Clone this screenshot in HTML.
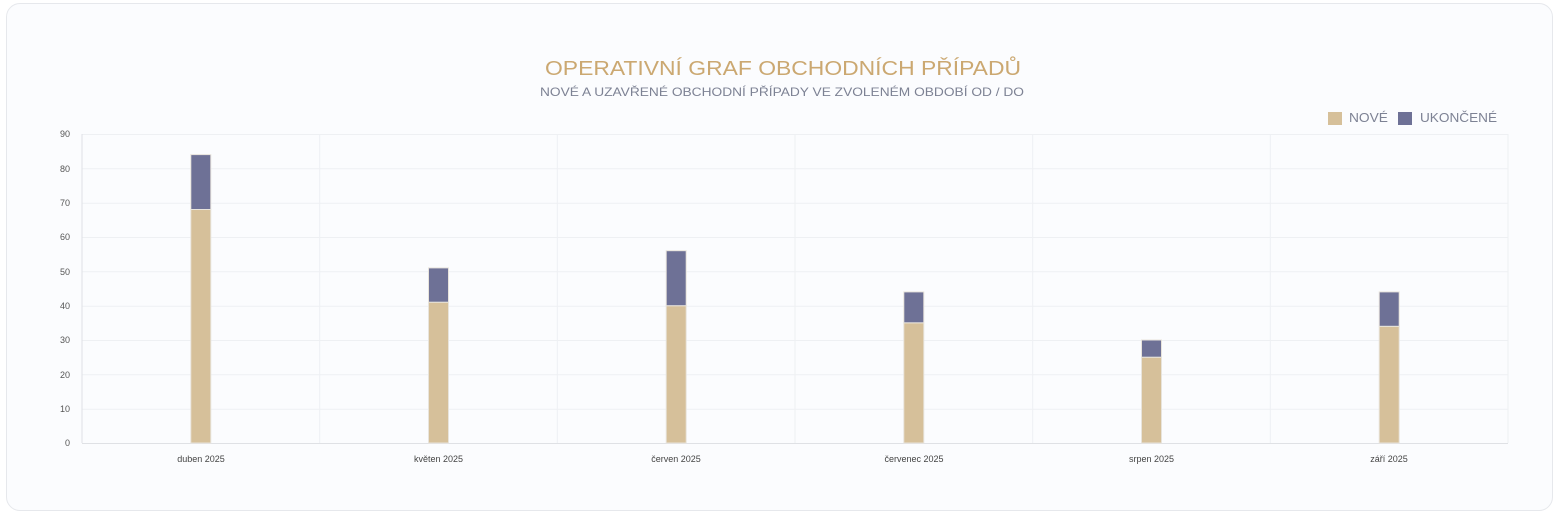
<!DOCTYPE html>
<html><head><meta charset="utf-8"><style>
html,body{margin:0;padding:0;background:#fff;width:1555px;height:513px;overflow:hidden}
.card{position:absolute;left:6px;top:3px;width:1545px;height:506px;border:1px solid #e6e8ec;border-radius:14px;background:#fbfcfe}
svg{position:absolute;left:0;top:0}
</style></head><body>
<div class="card"></div>
<svg width="1555" height="513" font-family="Liberation Sans, sans-serif">
<text x="545" y="75" textLength="476" lengthAdjust="spacingAndGlyphs" font-size="20" fill="#cba871">OPERATIVNÍ GRAF OBCHODNÍCH PŘÍPADŮ</text>
<text x="540" y="96" textLength="484" lengthAdjust="spacingAndGlyphs" font-size="12" fill="#7d8294">NOVÉ A UZAVŘENÉ OBCHODNÍ PŘÍPADY VE ZVOLENÉM OBDOBÍ OD / DO</text>
<rect x="1328" y="112" width="14" height="13" fill="#d6c09a"/>
<text x="1349" y="122" textLength="39" lengthAdjust="spacingAndGlyphs" font-size="12.5" fill="#7d8294">NOVÉ</text>
<rect x="1398" y="112" width="14" height="13" fill="#6e7196"/>
<text x="1420" y="122" textLength="77" lengthAdjust="spacingAndGlyphs" font-size="12.5" fill="#7d8294">UKONČENÉ</text>
<g stroke="#eef0f3" stroke-width="1">
<line x1="82" y1="134.5" x2="1508" y2="134.5"/><line x1="82" y1="168.8" x2="1508" y2="168.8"/>
<line x1="82" y1="203.2" x2="1508" y2="203.2"/><line x1="82" y1="237.5" x2="1508" y2="237.5"/>
<line x1="82" y1="271.8" x2="1508" y2="271.8"/><line x1="82" y1="306.2" x2="1508" y2="306.2"/>
<line x1="82" y1="340.5" x2="1508" y2="340.5"/><line x1="82" y1="374.8" x2="1508" y2="374.8"/>
<line x1="82" y1="409.2" x2="1508" y2="409.2"/>
<line x1="319.7" y1="134" x2="319.7" y2="443"/><line x1="557.3" y1="134" x2="557.3" y2="443"/>
<line x1="795" y1="134" x2="795" y2="443"/><line x1="1032.7" y1="134" x2="1032.7" y2="443"/>
<line x1="1270.3" y1="134" x2="1270.3" y2="443"/><line x1="1508" y1="134" x2="1508" y2="443"/>
</g>
<line x1="82" y1="134" x2="82" y2="443" stroke="#dfe1e5"/>
<line x1="82" y1="443.5" x2="1508" y2="443.5" stroke="#dfe1e5"/>
<g font-size="9" fill="#555" text-anchor="end">
<text x="70" y="137">90</text><text x="70" y="172">80</text><text x="70" y="206">70</text>
<text x="70" y="240">60</text><text x="70" y="275">50</text><text x="70" y="309">40</text>
<text x="70" y="343">30</text><text x="70" y="378">20</text><text x="70" y="412">10</text><text x="70" y="446">0</text>
</g>
<g font-size="9" fill="#444" text-anchor="middle">
<text x="201" y="462">duben 2025</text><text x="438.5" y="462">květen 2025</text>
<text x="676" y="462">červen 2025</text><text x="914" y="462">červenec 2025</text>
<text x="1151.5" y="462">srpen 2025</text><text x="1389" y="462">září 2025</text>
</g>
<g stroke="#e8e4dc" stroke-width="1">
<rect x="190.8" y="209.5" width="20" height="233.5" fill="#d6c09a"/>
<rect x="190.8" y="154.6" width="20" height="54.9" fill="#6e7196"/>
<rect x="428.5" y="302.2" width="20" height="140.8" fill="#d6c09a"/>
<rect x="428.5" y="267.9" width="20" height="34.3" fill="#6e7196"/>
<rect x="666.2" y="305.7" width="20" height="137.3" fill="#d6c09a"/>
<rect x="666.2" y="250.7" width="20" height="55" fill="#6e7196"/>
<rect x="903.8" y="322.8" width="20" height="120.2" fill="#d6c09a"/>
<rect x="903.8" y="291.9" width="20" height="30.9" fill="#6e7196"/>
<rect x="1141.5" y="357.2" width="20" height="85.8" fill="#d6c09a"/>
<rect x="1141.5" y="340" width="20" height="17.2" fill="#6e7196"/>
<rect x="1379.2" y="326.3" width="20" height="116.7" fill="#d6c09a"/>
<rect x="1379.2" y="291.9" width="20" height="34.4" fill="#6e7196"/>
</g>
</svg>
</body></html>
